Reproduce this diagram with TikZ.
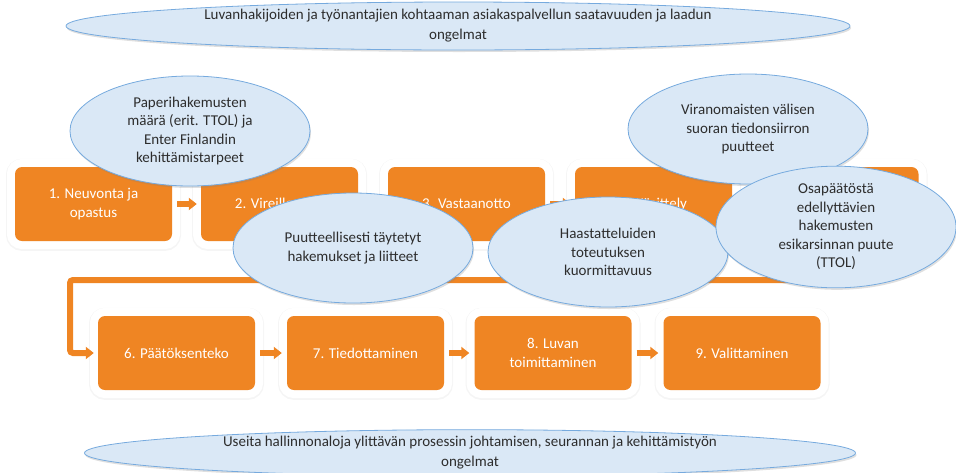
\documentclass[tikz,border=0pt]{standalone}
\usepackage{fontspec}
\setmainfont{Carlito}
\usetikzlibrary{shapes.geometric,arrows.meta,shadows}
\definecolor{boxorange}{RGB}{239,133,35}
\definecolor{ellfill}{RGB}{218,232,246}
\definecolor{elldraw}{RGB}{118,170,222}
\definecolor{elltext}{RGB}{45,45,45}
\begin{document}
\begin{tikzpicture}[x=1pt,y=-1pt,
    phasebox/.style={rectangle,rounded corners=7pt,fill=boxorange,text=white,
      minimum width=157pt,minimum height=74pt,align=center,inner sep=2pt,
      font=\fontsize{15}{19}\selectfont,
      preaction={draw=black!4,line width=18pt,transform canvas={yshift=-0.8pt}},
      preaction={draw=white,line width=16pt}},
    flow/.style={draw=boxorange,line width=6pt,-{Triangle[length=8pt,width=12pt]}},
    problem/.style={ellipse,fill=ellfill,draw=elldraw,line width=0.8pt,
      minimum width=240pt,minimum height=110pt,inner sep=0pt,align=center,
      text=elltext,font=\fontsize{15}{18.5}\selectfont,
      drop shadow={opacity=.25,shadow xshift=1pt,shadow yshift=-2pt}},
    banner/.style={problem,minimum width=784pt,minimum height=48pt,
      font=\fontsize{15}{20}\selectfont}]
  \useasboundingbox (0,0) rectangle (956,472);

  \node[phasebox] (b1) at (93.5,204) {1. Neuvonta ja\\opastus};
  \node[phasebox] (b2) at (279.5,204) {2. Vireillepano};
  \node[phasebox] (b3) at (466.5,204) {3. Vastaanotto};
  \node[phasebox] (b4) at (653.5,204) {4. Käsittely};
  \node[phasebox] (b5) at (840,204) {};

  \node[phasebox] (b6) at (176.5,353) {6. Päätöksenteko};
  \node[phasebox] (b7) at (365.5,353) {7. Tiedottaminen};
  \node[phasebox] (b8) at (553,353) {8. Luvan\\toimittaminen};
  \node[phasebox] (b9) at (742,353) {9. Valittaminen};

  \begin{scope}[shorten <=5pt,shorten >=4pt]
    \draw[flow] (b1) -- (b2);
    \draw[flow] (b2) -- (b3);
    \draw[flow] (b3) -- (b4);
    \draw[flow] (b4) -- (b5);
  \end{scope}
  \begin{scope}[shorten <=5pt,shorten >=5pt]
    \draw[flow] (b6) -- (b7);
    \draw[flow] (b7) -- (b8);
    \draw[flow] (b8) -- (b9);
  \end{scope}

  \coordinate (bend) at (70,280);
  \draw[flow,rounded corners=3pt,shorten >=4pt] (b5.south) |- (bend) |- (b6.west);

  \node[problem] (e1) at (190,131) {Paperihakemusten\\määrä (erit. TTOL) ja\\Enter Finlandin\\kehittämistarpeet};
  \node[problem] (e2) at (748,129) {Viranomaisten välisen\\suoran tiedonsiirron\\puutteet};
  \node[problem] (e3) at (353,248) {Puutteellisesti täytetyt\\hakemukset ja liitteet};
  \node[problem] (e4) at (608,252) {Haastatteluiden\\toteutuksen\\kuormittavuus};
  \node[problem] (e5) at (836,227) {Osapäätöstä\\edellyttävien\\hakemusten\\esikarsinnan puute\\(TTOL)};

  \node[banner] (top) at (458,26) {Luvanhakijoiden ja työnantajien kohtaaman asiakaspalvellun saatavuuden ja laadun\\ongelmat};
  \node[banner,minimum width=771pt,minimum height=46pt] (bottom) at (470,453) {Useita hallinnonaloja ylittävän prosessin johtamisen, seurannan ja kehittämistyön\\ongelmat};
\end{tikzpicture}
\end{document}
